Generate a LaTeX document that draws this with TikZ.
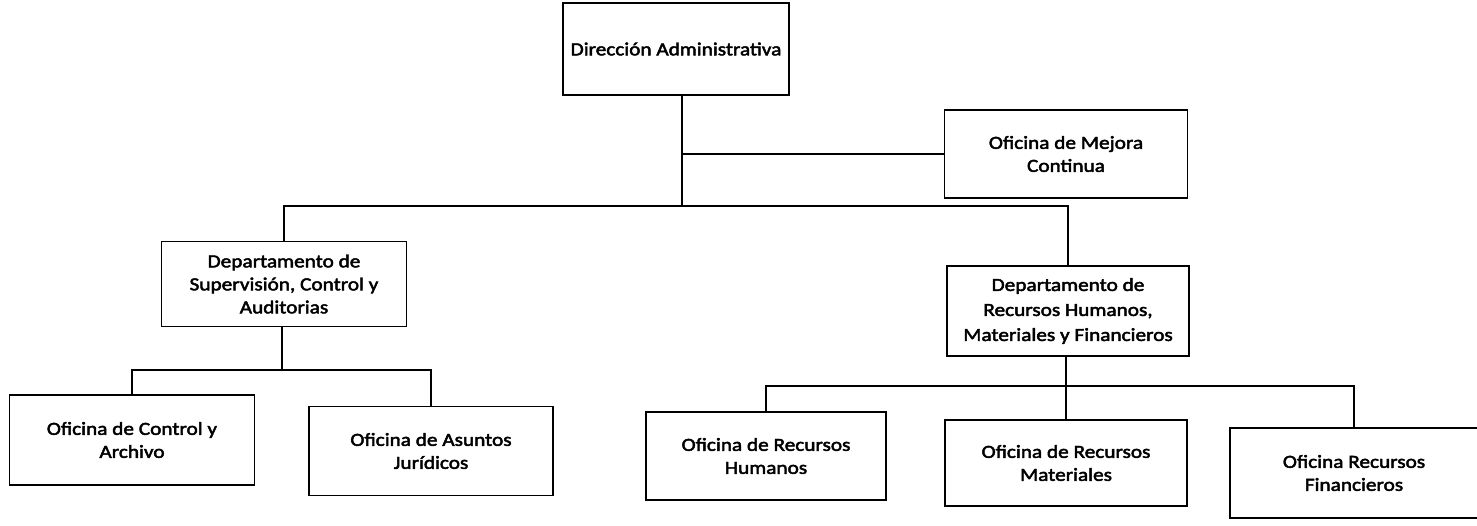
\documentclass[tikz,border=0pt]{standalone}
\usepackage{fontspec}
\setmainfont{Carlito}[FakeStretch=1.15,FakeBold=2.5]
\begin{document}
\begin{tikzpicture}[x=1pt,y=-1pt,
  box/.style={draw,line width=1.9pt,align=center,font=\fontsize{18.5}{23}\selectfont,inner sep=2pt},
  conn/.style={line width=1.9pt}]
\useasboundingbox (0,0) rectangle (1477,526);
\node[box,minimum width=226pt,minimum height=92pt] (dir) at (676,49) {Dirección Administrativa};
\node[box,minimum width=243pt,minimum height=88pt] (mej) at (1066,154) {Oficina de Mejora\\Continua};
\node[box,minimum width=245pt,minimum height=85pt] (sup) at (284,284) {Departamento de\\Supervisión, Control y\\Auditorias};
\node[box,minimum width=242pt,minimum height=90pt,font=\fontsize{18.5}{25}\selectfont] (rec) at (1068,311) {Departamento de\\Recursos Humanos,\\Materiales y Financieros};
\node[box,minimum width=245pt,minimum height=90pt] (ctl) at (132,440) {Oficina de Control y\\Archivo};
\node[box,minimum width=244pt,minimum height=89pt] (jur) at (431,451) {Oficina de Asuntos\\Jurídicos};
\node[box,minimum width=240pt,minimum height=88pt] (rh) at (766,456) {Oficina de Recursos\\Humanos};
\node[box,minimum width=242pt,minimum height=86pt] (rm) at (1066,463) {Oficina de Recursos\\Materiales};
\node[box,minimum width=248pt,minimum height=90pt] (rf) at (1354,473) {Oficina Recursos\\Financieros};
\coordinate (b1) at (682,206);
\coordinate (b2) at (282,370);
\coordinate (b3) at (1066,386);
\draw[conn] (dir.south -| b1) |- (mej.west);
\draw[conn] (dir.south -| b1) -- (b1);
\draw[conn] (sup.north) |- (b1) -| (rec.north);
\draw[conn] (sup.south -| b2) -- (b2);
\draw[conn] (ctl.north) |- (b2) -| (jur.north);
\draw[conn] (rec.south -| b3) -- (rm.north);
\draw[conn] (rh.north) |- (b3) -| (rf.north);
\end{tikzpicture}
\end{document}
